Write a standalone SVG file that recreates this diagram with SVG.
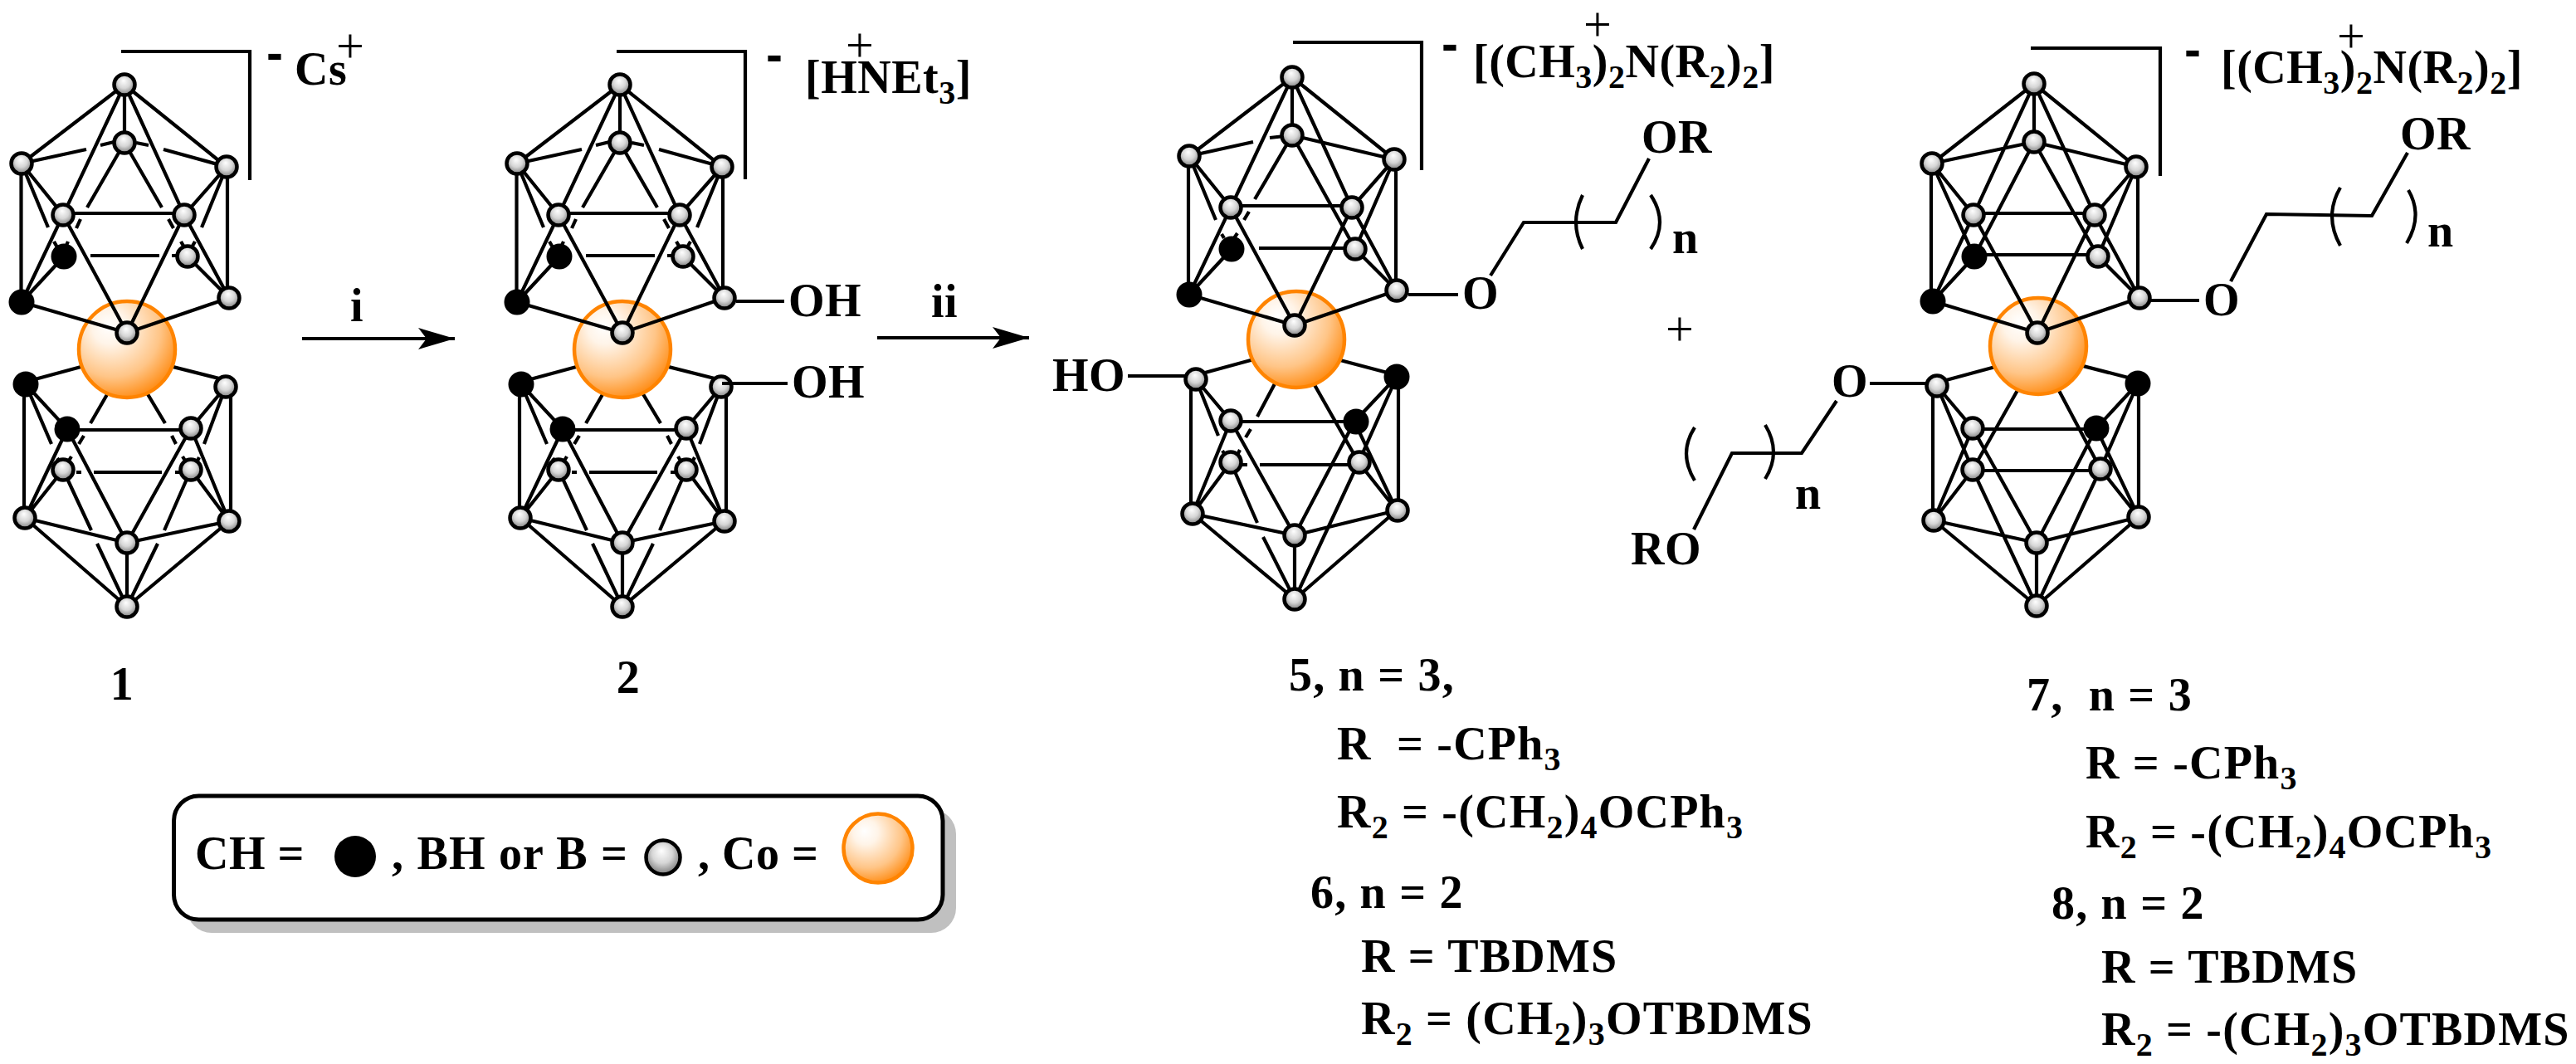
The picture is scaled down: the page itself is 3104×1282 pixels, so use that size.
<svg xmlns="http://www.w3.org/2000/svg" width="3104" height="1282" viewBox="0 0 3104 1282">
<style>
.b{fill:none;stroke:#000;stroke-width:4.2;stroke-linecap:butt;stroke-linejoin:miter}
.t{font-family:"Liberation Serif",serif;font-weight:bold;font-size:56px;fill:#000;letter-spacing:.5px}
.w{letter-spacing:1.2px}
.s{font-size:40px}
.p{font-family:"Liberation Serif",serif;font-weight:normal;font-size:60px;text-anchor:middle;fill:#000}
.m{font-family:"Liberation Sans",sans-serif;font-weight:bold;font-size:60px;text-anchor:middle;fill:#000}
.g{fill:url(#ball);stroke:#000;stroke-width:4.500}
.k{fill:#000}
.c{fill:url(#co);stroke:#ff8400;stroke-width:4.500}
</style>
<defs>
<radialGradient id="ball" cx="0.5" cy="0.45" r="0.6" fx="0.45" fy="0.3">
<stop offset="0" stop-color="#fff"/><stop offset="0.5" stop-color="#d6d6d6"/><stop offset="0.85" stop-color="#8c8c8c"/><stop offset="1" stop-color="#505050"/>
</radialGradient>
<radialGradient id="co" cx="0.38" cy="0.32" r="0.72" fx="0.3" fy="0.25">
<stop offset="0" stop-color="#fff"/><stop offset="0.25" stop-color="#fff4e8"/><stop offset="0.68" stop-color="#ffc587"/><stop offset="1" stop-color="#ff8a10"/>
</radialGradient>
<marker id="head" markerUnits="userSpaceOnUse" markerWidth="50" markerHeight="30" viewBox="-46 -15 50 30" refX="0" refY="0" orient="auto">
<path d="M0 0L-44 -13L-34 0L-44 13Z" fill="#000"/>
</marker>
<g id="cage12">
<path class="b" d="M31 460L153 427M272 458L153 428M31 463L81 517M31 463L62 535M29 463V624M278 466V628M272 466L230 516M272 466L246 535M135 465L109 510M172 465L199 510M81 518H230M101 525L95 535M207 525L212 535M81 517L30 624M81 517L153 654M230 516L153 654M230 516L276 628M69 552L71 555M86 550L83 555M220 550L223 555M240 551L238 555M92 569H98M113 569H195M211 569H217M76 566L30 624M230 566L276 628M76 566L110 639M230 566L198 639M117 655L153 731M190 655L153 731M30 624L153 654M276 628L153 654M30 624L153 731M276 628L153 731M153 654V731"/>
<circle class="k" cx="31" cy="463" r="15.5"/><circle class="g" cx="272" cy="466" r="12.5"/><circle class="k" cx="81" cy="517" r="15.5"/><circle class="g" cx="230" cy="516" r="12.5"/><circle class="g" cx="76" cy="566" r="12.5"/><circle class="g" cx="230" cy="566" r="12.5"/><circle class="g" cx="30" cy="624" r="12.5"/><circle class="g" cx="276" cy="628" r="12.5"/><circle class="g" cx="153" cy="654" r="12.5"/><circle class="g" cx="153" cy="731" r="12.5"/>
<circle class="c" cx="153" cy="421" r="58"/>
<path class="b" d="M150 102L26 197M150 102L76 259M150 102V172M150 102L222 259M150 102L273 201M26 197L104 180M121 175L150 168M164 172L179 175M197 180L273 201M150 172L105 250M150 172L195 250M26 197L76 259M26 197L58 274M273 201L222 259M273 201L243 274M76 257H222M97 264L92 275M203 264L209 275M76 259L26 364M76 259L153 401M222 259L153 401M222 259L276 359M25.5 197V364M274 201V359M77 309L26 364M226 309L276 359M65 291L69 298M82 291L79 298M218 291L222 298M235 291L231 298M109 308H192M207 308H214M26 364L153 401M276 359L153 401"/>
<circle class="g" cx="150" cy="102" r="12.5"/><circle class="g" cx="150" cy="172" r="12.5"/><circle class="g" cx="26" cy="197" r="12.5"/><circle class="g" cx="273" cy="201" r="12.5"/><circle class="g" cx="76" cy="259" r="12.5"/><circle class="g" cx="222" cy="259" r="12.5"/><circle class="k" cx="77" cy="309" r="15.5"/><circle class="g" cx="226" cy="309" r="12.5"/><circle class="k" cx="26" cy="364" r="15.5"/><circle class="g" cx="276" cy="359" r="12.5"/><circle class="g" cx="153" cy="401" r="12.5"/>
</g>
</defs>

<g id="compound-1">
<use href="#cage12"/>
<path class="b" d="M146 62H301V217"/>
<text class="m" x="331" y="83.500">-</text>
<text class="t" x="355" y="102">Cs</text>
<text class="p" x="422" y="74.700">+</text>
<text class="t" x="147" y="843" text-anchor="middle">1</text>
</g>

<g id="compound-2">
<use href="#cage12" transform="translate(597 0)"/>
<path class="b" d="M743 62H898V216"/>
<text class="m" x="933" y="86">-</text>
<text class="t" x="970" y="112">[HNEt<tspan class="s" dy="13">3</tspan><tspan dy="-13">]</tspan></text>
<text class="p" x="1036" y="73.700">+</text>
<text class="t" x="950" y="381">OH</text>
<text class="t" x="954" y="479">OH</text>
<text class="t" x="757" y="835" text-anchor="middle">2</text>
</g>

<g id="compound-5-6">
<path class="b" d="M1441 452L1562 419M1683 452L1562 420M1441 457L1483 507M1441 457L1468 525M1435 457V619M1685 454V615M1683 454L1632 508M1683 454L1637 557M1540 455L1515 502M1575 448L1637 557M1483 508H1632M1507 517L1501 527M1483 507L1437 619M1483 507L1560 645M1632 508L1560 645M1632 508L1683 615M1473 543L1476 548M1494 542L1491 548M1495 560H1503M1518 560H1637M1483 557L1437 619M1483 557L1515 630M1522 647L1560 722M1637 557L1560 722M1637 557L1683 615M1437 619L1560 645M1683 615L1560 645M1437 619L1560 722M1683 615L1560 722M1560 645V722"/>
<circle class="g" cx="1441" cy="457" r="12.5"/><circle class="k" cx="1683" cy="454" r="15.5"/><circle class="g" cx="1483" cy="507" r="12.5"/><circle class="k" cx="1634" cy="508" r="15.5"/><circle class="g" cx="1483" cy="557" r="12.5"/><circle class="g" cx="1638" cy="557" r="12.5"/><circle class="g" cx="1437" cy="619" r="12.5"/><circle class="g" cx="1684" cy="615" r="12.5"/><circle class="g" cx="1560" cy="645" r="12.5"/><circle class="g" cx="1560" cy="722" r="12.5"/>
<circle class="c" cx="1562" cy="409" r="58"/>
<path class="b" d="M1557 93L1433 188M1557 93L1483 250M1557 93V163M1557 93L1629 250M1557 93L1680 192M1433 188L1510 171M1530 166L1557 163M1557 163L1680 192M1557 163L1512 240M1557 163L1633 300M1433 188L1483 250M1433 188L1465 265M1680 192L1629 250M1680 192L1633 300M1483 248H1629M1505 255L1499 265M1483 250L1433 355M1483 250L1560 392M1629 250L1560 392M1629 250L1683 350M1432 188V355M1682 192V350M1484 300L1433 355M1633 300L1683 350M1472 282L1475 287M1491 281L1487 287M1517 299H1633M1433 355L1560 392M1683 350L1560 392"/>
<circle class="g" cx="1557" cy="93" r="12.5"/><circle class="g" cx="1557" cy="163" r="12.5"/><circle class="g" cx="1433" cy="188" r="12.5"/><circle class="g" cx="1680" cy="192" r="12.5"/><circle class="g" cx="1483" cy="250" r="12.5"/><circle class="g" cx="1629" cy="250" r="12.5"/><circle class="k" cx="1484" cy="300" r="15.5"/><circle class="g" cx="1633" cy="300" r="12.5"/><circle class="k" cx="1433" cy="355" r="15.5"/><circle class="g" cx="1683" cy="350" r="12.5"/><circle class="g" cx="1560" cy="392" r="12.5"/>
<path class="b" d="M1558 51H1713V205"/>
<text class="m" x="1747" y="73">-</text>
<text class="t" x="1775" y="93">[(CH<tspan class="s" dy="13">3</tspan><tspan dy="-13">)</tspan><tspan class="s" dy="13">2</tspan><tspan dy="-13">N(R</tspan><tspan class="s" dy="13">2</tspan><tspan dy="-13">)</tspan><tspan class="s" dy="13">2</tspan><tspan dy="-13">]</tspan></text>
<text class="p" x="1925" y="48.700">+</text>
<text class="t" x="1978" y="184">OR</text>
<text class="t" x="1762" y="372">O</text>
<text class="t" x="2015" y="305">n</text>
<text class="t" x="1268" y="471">HO</text>
</g>

<g id="compound-7-8">
<path class="b" d="M2334 461L2456 428M2576 458L2456 427M2334 465L2377 516M2334 465L2377 566M2329 465V627M2577 462V623M2576 462L2526 516M2576 462L2531 565M2434 465L2377 566M2478 465L2531 565M2377 517H2526M2377 516L2330 627M2377 516L2454 654M2526 516L2454 654M2526 516L2577 623M2377 567H2531M2377 566L2330 627M2377 566L2454 730M2531 565L2454 730M2531 565L2577 623M2330 627L2454 654M2577 623L2454 654M2330 627L2454 730M2577 623L2454 730M2454 654V730"/>
<circle class="g" cx="2334" cy="465" r="12.5"/><circle class="k" cx="2576" cy="462" r="15.5"/><circle class="g" cx="2377" cy="516" r="12.5"/><circle class="k" cx="2526" cy="516" r="15.5"/><circle class="g" cx="2377" cy="566" r="12.5"/><circle class="g" cx="2531" cy="565" r="12.5"/><circle class="g" cx="2330" cy="627" r="12.5"/><circle class="g" cx="2577" cy="623" r="12.5"/><circle class="g" cx="2454" cy="654" r="12.5"/><circle class="g" cx="2454" cy="730" r="12.5"/>
<circle class="c" cx="2456" cy="417" r="58"/>
<path class="b" d="M2451 101L2328 197M2451 101L2378 259M2451 101V171M2451 101L2524 259M2451 101L2574 201M2328 197L2451 171M2451 171L2574 201M2451 171L2379 309M2451 171L2528 309M2328 197L2378 259M2328 197L2379 309M2574 201L2524 259M2574 201L2528 309M2378 257H2524M2378 259L2329 363M2378 259L2455 401M2524 259L2455 401M2524 259L2578 359M2327 197V363M2576 201V359M2379 309L2329 363M2528 309L2578 359M2379 307H2528M2329 363L2455 401M2578 359L2455 401"/>
<circle class="g" cx="2451" cy="101" r="12.5"/><circle class="g" cx="2451" cy="171" r="12.5"/><circle class="g" cx="2328" cy="197" r="12.5"/><circle class="g" cx="2574" cy="201" r="12.5"/><circle class="g" cx="2378" cy="259" r="12.5"/><circle class="g" cx="2524" cy="259" r="12.5"/><circle class="k" cx="2379" cy="309" r="15.5"/><circle class="g" cx="2528" cy="309" r="12.5"/><circle class="k" cx="2329" cy="363" r="15.5"/><circle class="g" cx="2578" cy="359" r="12.5"/><circle class="g" cx="2455" cy="401" r="12.5"/>
<path class="b" d="M2447 58H2603V212"/>
<text class="m" x="2642" y="80">-</text>
<text class="t" x="2676" y="100">[(CH<tspan class="s" dy="13">3</tspan><tspan dy="-13">)</tspan><tspan class="s" dy="13">2</tspan><tspan dy="-13">N(R</tspan><tspan class="s" dy="13">2</tspan><tspan dy="-13">)</tspan><tspan class="s" dy="13">2</tspan><tspan dy="-13">]</tspan></text>
<text class="p" x="2833" y="62.700">+</text>
<text class="t" x="2892" y="180">OR</text>
<text class="t" x="2655" y="380">O</text>
<text class="t" x="2925" y="297">n</text>
<text class="t" x="2207" y="478">O</text>
<text class="t" x="1965" y="680">RO</text>
<text class="t" x="2163" y="613">n</text>
</g>

<g id="connectors">
<path class="b" d="M887 363H945M870 462H949"/>
<path class="b" d="M1359 453H1430"/>
<path class="b" d="M1697 355H1757M1796 332L1836 268H1947L1987 191"/>
<path class="b" d="M1907 235Q1891 268 1907 300M1989 235Q2011 268 1989 300"/>
<path class="b" d="M2591 362H2650M2688 339L2731 258L2858 260L2901 184"/>
<path class="b" d="M2820 226Q2800 260 2820 296M2902 229Q2920 260 2900 293"/>
<path class="b" d="M2253 462H2322M2213 483L2171 546H2087L2041 638"/>
<path class="b" d="M2042 515Q2022 546 2042 579M2127 512Q2147 545 2127 577"/>
<line class="b" x1="364" y1="408" x2="548" y2="408" marker-end="url(#head)"/>
<line class="b" x1="1057" y1="407" x2="1240" y2="407" marker-end="url(#head)"/>
</g>

<g id="reaction-labels">
<text class="t" x="430" y="387" text-anchor="middle">i</text>
<text class="t" x="1138" y="382" text-anchor="middle">ii</text>
<text class="p" x="2024" y="415.700">+</text>
</g>

<g id="legend">
<rect x="225" y="975" width="927" height="149" rx="30" fill="#c0c0c0"/>
<rect x="209.500" y="959" width="926.500" height="149" rx="30" fill="#fff" stroke="#000" stroke-width="5"/>
<text class="t" x="235" y="1047">CH =</text>
<circle cx="428" cy="1032" r="25" fill="#000"/>
<text class="t w" x="472" y="1047">, BH or B =</text>
<circle cx="799" cy="1033" r="20.500" fill="url(#ball)" stroke="#000" stroke-width="4.500"/>
<text class="t" x="841" y="1047">, Co =</text>
<circle cx="1058" cy="1022" r="41.500" fill="url(#co)" stroke="#ff8400" stroke-width="4.500"/>
</g>

<g id="substituents">
<text class="t w" x="1553" y="832">5, n = 3,</text>
<text class="t w" x="1611" y="915" xml:space="preserve">R  = -CPh<tspan class="s" dy="13">3</tspan></text>
<text class="t w" x="1611" y="997">R<tspan class="s" dy="13">2</tspan><tspan dy="-13"> = -(CH</tspan><tspan class="s" dy="13">2</tspan><tspan dy="-13">)</tspan><tspan class="s" dy="13">4</tspan><tspan dy="-13">OCPh</tspan><tspan class="s" dy="13">3</tspan></text>
<text class="t w" x="1579" y="1094">6, n = 2</text>
<text class="t w" x="1640" y="1171">R = TBDMS</text>
<text class="t w" x="1640" y="1246">R<tspan class="s" dy="13">2</tspan><tspan dy="-13"> = (CH</tspan><tspan class="s" dy="13">2</tspan><tspan dy="-13">)</tspan><tspan class="s" dy="13">3</tspan><tspan dy="-13">OTBDMS</tspan></text>
<text class="t w" x="2442" y="856" xml:space="preserve">7,  n = 3</text>
<text class="t w" x="2513" y="938">R = -CPh<tspan class="s" dy="13">3</tspan></text>
<text class="t w" x="2513" y="1021">R<tspan class="s" dy="13">2</tspan><tspan dy="-13"> = -(CH</tspan><tspan class="s" dy="13">2</tspan><tspan dy="-13">)</tspan><tspan class="s" dy="13">4</tspan><tspan dy="-13">OCPh</tspan><tspan class="s" dy="13">3</tspan></text>
<text class="t w" x="2472" y="1107">8, n = 2</text>
<text class="t w" x="2532" y="1184">R = TBDMS</text>
<text class="t w" x="2532" y="1259">R<tspan class="s" dy="13">2</tspan><tspan dy="-13"> = -(CH</tspan><tspan class="s" dy="13">2</tspan><tspan dy="-13">)</tspan><tspan class="s" dy="13">3</tspan><tspan dy="-13">OTBDMS</tspan></text>
</g>
</svg>
